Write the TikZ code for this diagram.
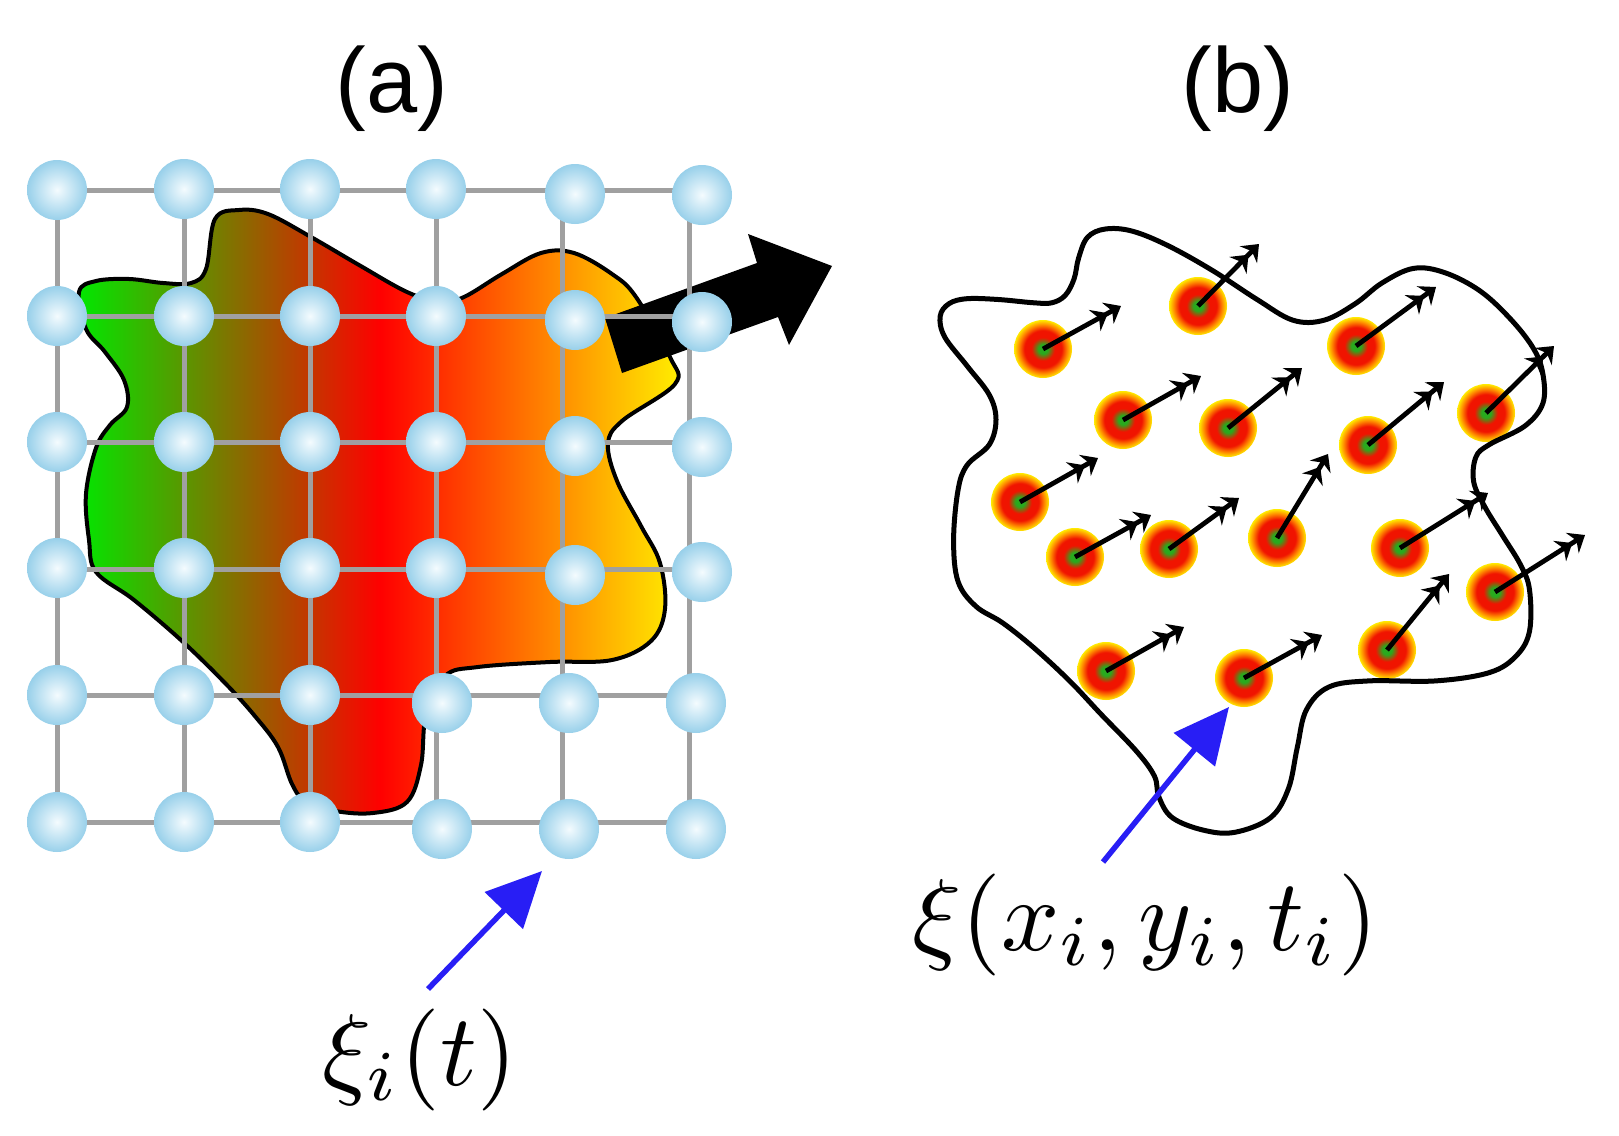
\documentclass[tikz,border=0pt]{standalone}
\usepackage{graphicx}
\usepackage{fontspec}
\newfontfamily\labfont{Liberation Sans}
\usetikzlibrary{arrows.meta}
\definecolor{ballblue}{RGB}{152,208,234}
\definecolor{ballcenter}{RGB}{244,251,254}
\definecolor{gridgray}{RGB}{160,160,160}
\definecolor{ag}{RGB}{0,232,0}
\definecolor{ar}{RGB}{255,0,0}
\definecolor{ay}{RGB}{255,240,0}
\definecolor{pgreen}{RGB}{40,170,30}
\definecolor{pred}{RGB}{240,20,0}
\definecolor{porange}{RGB}{255,140,0}
\definecolor{pyellow}{RGB}{255,235,0}
\definecolor{pblue}{RGB}{40,30,245}
\pgfdeclareradialshading{particle}{\pgfpoint{0bp}{0bp}}{color(0bp)=(pgreen); color(4bp)=(pgreen); color(10bp)=(pred); color(16bp)=(pred); color(21bp)=(porange); color(25bp)=(pyellow); color(50bp)=(pyellow)}
\newcommand{\bigmath}[1]{\scalebox{10.2}{$#1$}}
\begin{document}
\begin{tikzpicture}[x=1pt,y=-1pt,
  ballnode/.style={circle,minimum size=60pt,inner sep=0pt,inner color=ballcenter,outer color=ballblue},
  partnode/.style={circle,minimum size=58pt,inner sep=0pt,shading=particle},
  gridline/.style={draw=gridgray,line width=5pt},
  blobline/.style={draw=black,line width=4pt},
  bloblineb/.style={draw=black,line width=5pt},
  parrow/.style={draw=black,line width=4.8pt,-{Stealth[length=15pt,width=24pt]Stealth[length=15pt,width=24pt]}},
  bluearrow/.style={draw=pblue,line width=5.5pt,-{Triangle[length=55pt,width=52pt]}},
  panellabel/.style={font=\labfont\fontsize{92}{100}\selectfont,anchor=base,inner sep=0pt},
  mathlabel/.style={anchor=base west,inner sep=0pt}]
\useasboundingbox[fill=white] (0,0) rectangle (1619,1135);

% ---------------- panel (a) ----------------
\node[panellabel] (la) at (392,112) {(a)};
\node[panellabel] (lb) at (1238,112) {(b)};

\path[blobline,left color=ag,right color=ay,middle color=ar]
  plot[smooth cycle,tension=0.6] coordinates {
  (206,269) (215,219) (239,210) (268,214) (311,237) (359,265) (407,292) (440,302)
  (464,297) (502,274) (541,253) (574,253) (612,274) (636,297) (670,357) (675,384)
  (622,421) (608,444) (617,481) (641,526) (660,563) (665,609) (651,641) (612,660)
  (550,662) (478,667) (445,676) (426,715) (421,765) (407,802) (373,813) (335,811)
  (306,802) (292,784) (278,747) (254,715) (225,683) (182,641) (134,600) (96,572)
  (89,540) (86,494) (96,448) (110,425) (127,407) (124,380) (105,352) (86,329)
  (79,292) (96,281) (129,279) (163,283) (191,283)};

\fill[black] (605,318) -- (622,373) -- (778,317) -- (789,345) -- (832,266) -- (748,234) -- (757,263) -- cycle;

\foreach \x in {57,184,310,436,562,689} \draw[gridline] (\x,190) -- (\x,822);
\foreach \y in {190,316,442,569,695,822} \draw[gridline] (57,\y) -- (689,\y);

\node[ballnode] (b11) at (57,190) {};
\node[ballnode] (b12) at (184,189) {};
\node[ballnode] (b13) at (310,189) {};
\node[ballnode] (b14) at (436,189) {};
\node[ballnode] (b15) at (575,194) {};
\node[ballnode] (b16) at (702,195) {};
\node[ballnode] (b21) at (57,316) {};
\node[ballnode] (b22) at (184,316) {};
\node[ballnode] (b23) at (310,316) {};
\node[ballnode] (b24) at (436,316) {};
\node[ballnode] (b25) at (575,320) {};
\node[ballnode] (b26) at (702,322) {};
\node[ballnode] (b31) at (57,442) {};
\node[ballnode] (b32) at (184,442) {};
\node[ballnode] (b33) at (310,442) {};
\node[ballnode] (b34) at (436,442) {};
\node[ballnode] (b35) at (575,446) {};
\node[ballnode] (b36) at (702,447) {};
\node[ballnode] (b41) at (57,568) {};
\node[ballnode] (b42) at (184,568) {};
\node[ballnode] (b43) at (310,568) {};
\node[ballnode] (b44) at (436,568) {};
\node[ballnode] (b45) at (575,575) {};
\node[ballnode] (b46) at (702,572) {};
\node[ballnode] (b51) at (57,695) {};
\node[ballnode] (b52) at (184,695) {};
\node[ballnode] (b53) at (310,695) {};
\node[ballnode] (b54) at (442,703) {};
\node[ballnode] (b55) at (569,703) {};
\node[ballnode] (b56) at (696,703) {};
\node[ballnode] (b61) at (57,822) {};
\node[ballnode] (b62) at (184,822) {};
\node[ballnode] (b63) at (310,822) {};
\node[ballnode] (b64) at (442,829) {};
\node[ballnode] (b65) at (569,829) {};
\node[ballnode] (b66) at (696,829) {};

\coordinate (atail) at (428,989);
\coordinate (atip) at (542,871);
\draw[bluearrow] (atail) -- (atip);
\node[mathlabel] (xa) at (322,1085) {\bigmath{\xi_i(t)}};

% ---------------- panel (b) ----------------
\node[partnode] (p1) at (1043,349) {};
\node[partnode] (p2) at (1198,306) {};
\node[partnode] (p3) at (1356,346) {};
\node[partnode] (p4) at (1123,420) {};
\node[partnode] (p5) at (1228,428) {};
\node[partnode] (p6) at (1368,445) {};
\node[partnode] (p7) at (1486,413) {};
\node[partnode] (p8) at (1020,502) {};
\node[partnode] (p9) at (1075,557) {};
\node[partnode] (p10) at (1169,549) {};
\node[partnode] (p11) at (1277,538) {};
\node[partnode] (p12) at (1400,548) {};
\node[partnode] (p13) at (1495,592) {};
\node[partnode] (p14) at (1106,671) {};
\node[partnode] (p15) at (1244,678) {};
\node[partnode] (p16) at (1387,650) {};

\draw[bloblineb] plot[smooth cycle,tension=0.6] coordinates {
  (1078.6,258.0) (1087.5,237.3) (1105.4,229.0) (1132.1,231.1) (1167.9,245.6)
  (1212.5,270.5) (1257.1,299.5) (1292.9,320.2) (1324.1,320.2) (1355.4,303.6)
  (1382.1,282.9) (1413.4,268.4) (1444.6,272.6) (1480.4,291.2) (1511.6,320.2)
  (1533.9,349.3) (1542.9,374.1) (1542.9,403.2) (1525.0,425.9) (1489.3,444.6)
  (1475.9,457.0) (1473.7,481.9) (1484.8,506.8) (1502.7,535.8) (1520.5,564.8)
  (1529.5,589.7) (1529.5,631.2) (1516.1,656.0) (1489.3,672.6) (1435.7,680.9)
  (1368.8,680.9) (1328.6,687.1) (1306.3,710.0) (1297.3,747.3) (1288.4,788.7)
  (1270.5,817.7) (1234.8,832.3) (1203.6,830.2) (1172.3,817.7) (1158.9,797.0)
  (1154.5,776.3) (1136.6,751.4) (1100.9,714.1) (1069.6,680.9) (1033.9,647.8)
  (1002.7,622.9) (975.9,606.3) (958.0,581.4) (953.6,540.0) (958.0,490.2)
  (967.0,465.3) (989.3,444.6) (996.0,419.7) (989.3,394.9) (967.0,365.8)
  (944.6,336.8) (940.2,316.1) (949.1,303.6) (967.0,298.7) (998.2,299.5)
  (1033.9,302.8) (1051.8,302.8) (1065.2,295.4) (1074.1,278.8)};

\coordinate (t1) at (1121,306);
\coordinate (t2) at (1259,244);
\coordinate (t3) at (1436,287);
\coordinate (t4) at (1201,376);
\coordinate (t5) at (1302,368);
\coordinate (t6) at (1444,382);
\coordinate (t7) at (1554,346);
\coordinate (t8) at (1098,458);
\coordinate (t9) at (1151,515);
\coordinate (t10) at (1239,498);
\coordinate (t11) at (1328,454);
\coordinate (t12) at (1488,493);
\coordinate (t13) at (1585,535);
\coordinate (t14) at (1184,627);
\coordinate (t15) at (1322,635);
\coordinate (t16) at (1449,574);
\foreach \i in {1,...,16} \draw[parrow] (p\i.center) -- (t\i);

\coordinate (btail) at (1103,862);
\coordinate (btip) at (1229,707);
\draw[bluearrow] (btail) -- (btip);
\node[mathlabel] (xb) at (912,950) {\bigmath{\xi(x_i,y_i,t_i)}};
\end{tikzpicture}
\end{document}
